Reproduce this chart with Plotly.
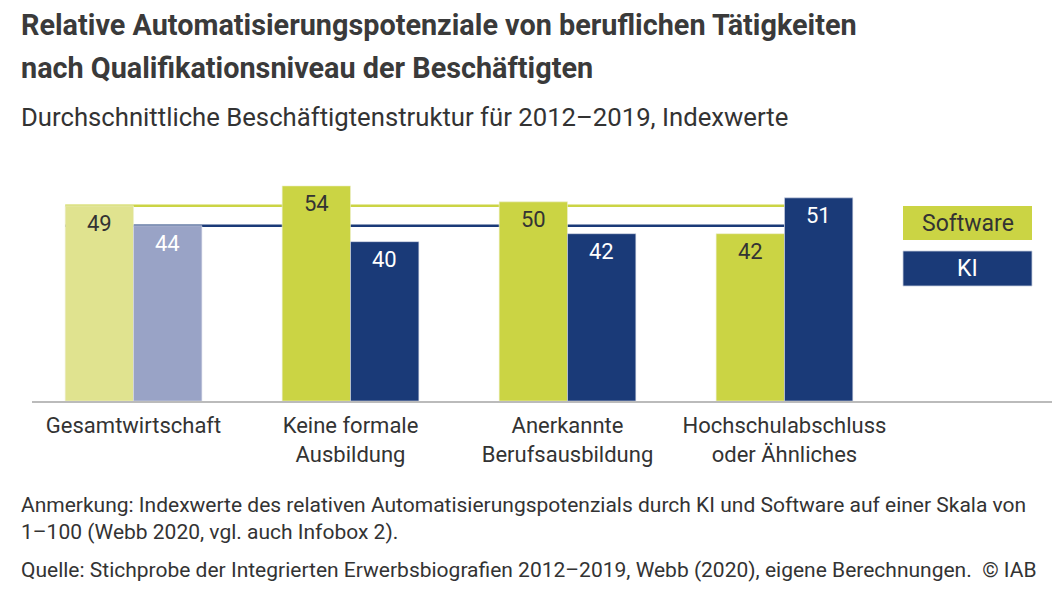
import plotly.graph_objects as go

categories = ["Gesamtwirtschaft", "Keine formale<br>Ausbildung", "Anerkannte<br>Berufsausbildung", "Hochschulabschluss<br>oder Ähnliches"]
software = [49, 54, 50, 42]
ki = [44, 40, 42, 51]
software_colors = ["#e0e38f", "#cbd444", "#cbd444", "#cbd444"]
ki_colors = ["#99a3c6", "#1a3a78", "#1a3a78", "#1a3a78"]
ref_software = software[0]
ref_ki = ki[0]

FONT = "Roboto"
DARK = "#333333"
W, H = 1059, 598
L, R, T, B = 32, 1052, 162, 401  # plot area in pixels

def px(xp):
    return (xp - L) / (R - L)

def py(yp):
    return (B - yp) / (B - T)

xs = list(range(len(categories)))

fig = go.Figure()
fig.add_trace(go.Bar(x=xs, y=software, name="Software", marker=dict(color=software_colors, line=dict(width=0.6, color="#eef0d0")),
                     showlegend=False, hoverinfo="skip"))
fig.add_trace(go.Bar(x=xs, y=ki, name="KI", marker=dict(color=ki_colors, line=dict(width=0.6, color="#d8dcea")),
                     showlegend=False, hoverinfo="skip"))

# reference lines (Gesamtwirtschaft values), behind bars
x0_line, x1_line = -0.315, 3.0
fig.add_shape(type="line", xref="x", yref="y", x0=x0_line, x1=x1_line, y0=ref_software, y1=ref_software,
              line=dict(color="#cbd444", width=2.5), layer="below")
fig.add_shape(type="line", xref="x", yref="y", x0=x0_line, x1=x1_line, y0=ref_ki, y1=ref_ki,
              line=dict(color="#1a3a78", width=2.5), layer="below")

# value labels
off = 0.1567
for i, (s, k) in enumerate(zip(software, ki)):
    fig.add_annotation(x=i - off, y=s, text=str(s), showarrow=False, xanchor="center", yanchor="top", yshift=-3,
                       font=dict(family=FONT, size=22, color=DARK))
    fig.add_annotation(x=i + off, y=k, text=str(k), showarrow=False, xanchor="center", yanchor="top", yshift=-3,
                       font=dict(family=FONT, size=22, color="white"))

# legend boxes
fig.add_shape(type="rect", xref="paper", yref="paper", x0=px(903), x1=px(1032), y0=py(240), y1=py(206),
              fillcolor="#cbd444", line=dict(width=0))
fig.add_shape(type="rect", xref="paper", yref="paper", x0=px(903), x1=px(1032), y0=py(286), y1=py(251),
              fillcolor="#1a3a78", line=dict(width=0.8, color="#c8cfe0"))
fig.add_annotation(xref="paper", yref="paper", x=px(967.5), y=py(223), text="Software", showarrow=False,
                   xanchor="center", yanchor="middle", font=dict(family=FONT, size=23, color=DARK))
fig.add_annotation(xref="paper", yref="paper", x=px(967.5), y=py(268.5), text="KI", showarrow=False,
                   xanchor="center", yanchor="middle", font=dict(family=FONT, size=23, color="white"))

# titles and notes
def text(t, xp, yp, size, bold=False, color=DARK):
    fig.add_annotation(xref="paper", yref="paper", x=px(xp), y=py(yp), text=(f"<b>{t}</b>" if bold else t),
                       showarrow=False, xanchor="left", yanchor="middle", align="left",
                       font=dict(family=FONT, size=size, color=color))

text("Relative Automatisierungspotenziale von beruflichen Tätigkeiten", 19, 25, 28.8, bold=True, color="#3a3a3a")
text("nach Qualifikationsniveau der Beschäftigten", 19, 68, 28.8, bold=True, color="#3a3a3a")
text("Durchschnittliche Beschäftigtenstruktur für 2012–2019, Indexwerte", 19, 117, 25.7)
text("Anmerkung: Indexwerte des relativen Automatisierungspotenzials durch KI und Software auf einer Skala von", 19, 505, 21)
text("1–100 (Webb 2020, vgl. auch Infobox 2).", 19, 532, 21)
text("Quelle: Stichprobe der Integrierten Erwerbsbiografien 2012–2019, Webb (2020), eigene Berechnungen.  © IAB", 19, 570, 21)

fig.update_layout(
    width=W, height=H,
    margin=dict(l=L, r=W - R, t=T, b=H - B, pad=0),
    paper_bgcolor="white", plot_bgcolor="white",
    barmode="group", bargap=0.37, bargroupgap=0,
    font=dict(family=FONT, color=DARK),
    xaxis=dict(range=[-0.468, 4.233], tickvals=xs, ticktext=categories, showgrid=False, zeroline=False,
               showline=True, linecolor="#bbbbbb", linewidth=2, ticks="", ticklabelstandoff=4,
               tickfont=dict(family=FONT, size=22, color=DARK), fixedrange=True),
    yaxis=dict(range=[0, 60], visible=False, fixedrange=True),
)

fig.write_html("out.html", config={"displayModeBar": False},
               post_script="document.body.style.margin='0';document.body.style.overflow='hidden';")
